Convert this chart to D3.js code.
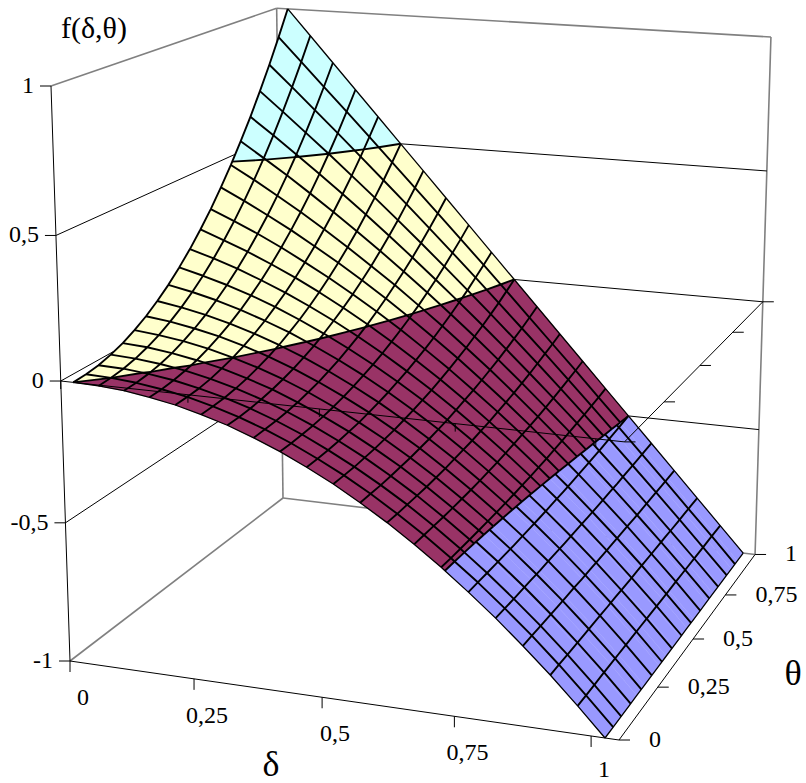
<!DOCTYPE html>
<html>
<head>
<meta charset="utf-8">
<script src="https://cdn.jsdelivr.net/npm/d3@7"></script>
<style>
  html, body { margin: 0; padding: 0; background: #fff; }
  svg { display: block; }
  text { font-family: "Liberation Serif", serif; fill: #000; }
</style>
</head>
<body>
<svg id="chart" width="806" height="783"></svg>
<script>
// values
const deltaValues = [0, 0.05, 0.1, 0.15, 0.2, 0.25, 0.3, 0.35, 0.4, 0.45, 0.5, 0.55, 0.6, 0.65, 0.7, 0.75, 0.8, 0.85, 0.9, 0.95, 1];
const thetaValues = [0, 0.05, 0.1, 0.15, 0.2, 0.25, 0.3, 0.35, 0.4, 0.45, 0.5, 0.55, 0.6, 0.65, 0.7, 0.75, 0.8, 0.85, 0.9, 0.95, 1];
const zTicks = [-1, -0.5, 0, 0.5, 1];
const zLabels = ['-1', '-0,5', '0', '0,5', '1'];
const deltaTicks = [0, 0.25, 0.5, 0.75, 1];
const deltaLabels = ['0', '0,25', '0,5', '0,75', '1'];
const thetaTicks = [0, 0.25, 0.5, 0.75, 1];
const thetaLabels = ['0', '0,25', '0,5', '0,75', '1'];
const bandEdges = [-1, -0.5, 0, 0.5, 1];
const bandColors = ['#9999FF', '#993366', '#FFFFCC', '#CCFFFF'];
// the blue band shows fewer theta lines than the rest, read from where they end on the delta = 1 edge
const blueThetaLines = [0, 0.05, 0.1, 0.16, 0.23, 0.3, 0.37, 0.44, 0.51, 0.58, 0.65, 0.72, 0.79, 0.86, 0.93, 1];

// one row per delta, one column per theta
const surfaceValues = [
  [0, .003, .01, .023, .04, .063, .09, .123, .16, .203, .25, .303, .36, .423, .49, .563, .64, .723, .81, .903, 1],
  [-.003, 0, .007, .018, .034, .054, .079, .108, .142, .18, .223, .27, .322, .379, .44, .505, .575, .65, .729, .812, .9],
  [-.01, -.008, -.002, .008, .022, .041, .063, .089, .12, .154, .193, .235, .282, .332, .387, .446, .508, .575, .646, .721, .8],
  [-.023, -.021, -.015, -.006, .006, .023, .043, .066, .093, .124, .158, .196, .238, .283, .332, .384, .44, .5, .563, .63, .7],
  [-.04, -.038, -.034, -.026, -.014, 0, .018, .038, .062, .09, .12, .154, .19, .23, .274, .32, .37, .422, .478, .538, .6],
  [-.063, -.061, -.057, -.05, -.04, -.027, -.012, .006, .028, .051, .078, .108, .14, .175, .213, .254, .298, .344, .393, .445, .5],
  [-.09, -.089, -.085, -.079, -.07, -.059, -.046, -.03, -.012, .009, .033, .058, .086, .117, .15, .186, .224, .264, .307, .352, .4],
  [-.123, -.121, -.118, -.113, -.106, -.096, -.085, -.071, -.055, -.037, -.017, .005, .03, .056, .085, .115, .148, .183, .22, .259, .3],
  [-.16, -.159, -.156, -.152, -.146, -.138, -.128, -.116, -.102, -.087, -.07, -.051, -.03, -.008, .016, .043, .07, .1, .132, .165, .2],
  [-.203, -.202, -.2, -.196, -.19, -.184, -.175, -.165, -.154, -.141, -.127, -.111, -.094, -.075, -.054, -.032, -.009, .016, .043, .071, .1],
  [-.25, -.249, -.248, -.244, -.24, -.234, -.228, -.219, -.21, -.199, -.188, -.174, -.16, -.144, -.128, -.109, -.09, -.069, -.048, -.024, 0],
  [-.303, -.302, -.301, -.298, -.294, -.29, -.284, -.278, -.27, -.262, -.252, -.241, -.23, -.217, -.203, -.189, -.173, -.156, -.139, -.12, -.1],
  [-.36, -.36, -.358, -.356, -.354, -.35, -.346, -.34, -.334, -.328, -.32, -.312, -.302, -.292, -.282, -.27, -.258, -.244, -.23, -.216, -.2],
  [-.423, -.422, -.421, -.42, -.418, -.415, -.412, -.408, -.403, -.398, -.392, -.385, -.378, -.371, -.363, -.354, -.344, -.334, -.323, -.312, -.3],
  [-.49, -.49, -.489, -.488, -.486, -.484, -.482, -.479, -.476, -.472, -.468, -.463, -.458, -.452, -.446, -.439, -.432, -.425, -.417, -.409, -.4],
  [-.563, -.562, -.562, -.561, -.56, -.559, -.557, -.555, -.553, -.55, -.547, -.544, -.54, -.536, -.532, -.527, -.523, -.517, -.512, -.506, -.5],
  [-.64, -.64, -.64, -.639, -.638, -.638, -.636, -.635, -.634, -.632, -.63, -.628, -.626, -.623, -.62, -.618, -.614, -.611, -.608, -.604, -.6],
  [-.723, -.722, -.722, -.722, -.722, -.721, -.72, -.72, -.719, -.718, -.717, -.716, -.714, -.713, -.712, -.71, -.708, -.706, -.704, -.702, -.7],
  [-.81, -.81, -.81, -.81, -.81, -.809, -.809, -.809, -.808, -.808, -.808, -.807, -.806, -.806, -.805, -.804, -.804, -.803, -.802, -.801, -.8],
  [-.903, -.903, -.903, -.902, -.902, -.902, -.902, -.902, -.902, -.902, -.902, -.902, -.902, -.901, -.901, -.901, -.901, -.901, -.9, -.9, -.9],
  [-1, -1, -1, -1, -1, -1, -1, -1, -1, -1, -1, -1, -1, -1, -1, -1, -1, -1, -1, -1, -1]
];

// delta points sit in the middle of their category, so the box runs half a step past each end
const deltaStep = 0.05;
const uScale = d3.scaleLinear().domain([-deltaStep / 2, 1 + deltaStep / 2]).range([0, 1]);
const tickU = d3.scaleLinear().domain([0, 1 + deltaStep]).range([0, 1]);
const vScale = d3.scaleLinear().domain([0, 1]).range([0, 1]);
const wScale = d3.scaleLinear().domain([-1, 1]).range([0, 1]);

// box corners on screen and the perspective factors
const ORIGIN = [70, 661];
const U_END = [619, 740];
const V_END = [283, 498];
const W_END = [51, 86];
const PERSP_U = -0.066;
const PERSP_V = 0.182;
const PERSP_W = -0.051;

function cube(u, v, w) {
  let den = 1 + PERSP_U * u + PERSP_V * v + PERSP_W * w;
  let out = [];
  for (let k = 0; k < 2; k++) {
    out.push((ORIGIN[k]
      + u * ((1 + PERSP_U) * U_END[k] - ORIGIN[k])
      + v * ((1 + PERSP_V) * V_END[k] - ORIGIN[k])
      + w * ((1 + PERSP_W) * W_END[k] - ORIGIN[k])) / den);
  }
  return out;
}

// data coordinates to screen
function project(d, t, z) {
  return cube(uScale(d), vScale(t), wScale(z));
}

// axis positions use the tick scale, not the point scale
function axisPoint(d, t, z) {
  return cube(tickU(d), vScale(t), wScale(z));
}

let svg = d3.select('#chart');
let line = d3.line();

function seg(a, b, color, width) {
  svg.append('path')
    .attr('d', line([a, b]))
    .attr('fill', 'none')
    .attr('stroke', color)
    .attr('stroke-width', width);
}

function label(txt, x, y, size, anchor) {
  svg.append('text')
    .attr('x', x)
    .attr('y', y)
    .attr('font-size', size)
    .attr('text-anchor', anchor)
    .text(txt);
}

const GREY = '#808080';

// walls: use box coordinates directly
function drawWalls() {
  seg(cube(0, 0, 1), cube(0, 1, 1), GREY, 1.6);
  seg(cube(0, 1, 1), cube(1, 1, 1), GREY, 1.6);
  seg(cube(0, 1, 0), cube(0, 1, 1), GREY, 1.6);
  seg(cube(1, 1, 0), cube(1, 1, 1), GREY, 1.6);
  seg(cube(0, 0, 0), cube(0, 1, 0), GREY, 1.6);
  seg(cube(0, 1, 0), cube(1, 1, 0), GREY, 1.6);

  zTicks.slice(1, 4).forEach(function(z) {
    let w = wScale(z);
    seg(cube(0, 0, w), cube(0, 1, w), '#000', 1);
    seg(cube(0, 1, w), cube(1, 1, w), '#000', 1);
  });
}

// keep the part of a polygon with lo <= z <= hi
function clipBand(poly, lo, hi) {
  function clip(pts, inside, level) {
    let res = [];
    pts.forEach(function(p, n) {
      let q = pts[(n + 1) % pts.length];
      let pIn = inside(p[2]);
      let qIn = inside(q[2]);
      if (pIn) res.push(p);
      if (pIn !== qIn) {
        let s = (level - p[2]) / (q[2] - p[2]);
        res.push([p[0] + s * (q[0] - p[0]), p[1] + s * (q[1] - p[1]), level]);
      }
    });
    return res;
  }
  let out = clip(poly, z => z >= lo, lo);
  if (out.length) out = clip(out, z => z <= hi, hi);
  return out;
}

// surface height at any theta, read between the two neighbouring columns of a row
function heightAt(i, t) {
  let bis = d3.bisectRight(thetaValues, t) - 1;
  let j = Math.min(bis, thetaValues.length - 2);
  let s = (t - thetaValues[j]) / (thetaValues[j + 1] - thetaValues[j]);
  return surfaceValues[i][j] + s * (surfaceValues[i][j + 1] - surfaceValues[i][j]);
}

// a theta line, only the stretch on one side of the -0,5 contour
function thetaLinePoints(t, above) {
  let level = bandEdges[1];
  let pts = [];
  for (let i = 0; i < deltaValues.length; i++) {
    let z = heightAt(i, t);
    if ((z >= level) === above) {
      if (i > 0 && pts.length === 0) {
        let zPrev = heightAt(i - 1, t);
        pts.push(project(deltaValues[i - 1] + (level - zPrev) / (z - zPrev) * deltaStep, t, level));
      }
      pts.push(project(deltaValues[i], t, z));
    } else if (pts.length) {
      let zPrev = heightAt(i - 1, t);
      pts.push(project(deltaValues[i - 1] + (level - zPrev) / (z - zPrev) * deltaStep, t, level));
      break;
    }
  }
  return pts;
}

function drawSurface() {
  let cells = svg.append('g');
  let contours = [];

  // back to front: far theta first, then growing delta
  for (let j = thetaValues.length - 2; j >= 0; j--) {
    for (let i = 0; i < deltaValues.length - 1; i++) {
      let quad = [
        [deltaValues[i], thetaValues[j], surfaceValues[i][j]],
        [deltaValues[i + 1], thetaValues[j], surfaceValues[i + 1][j]],
        [deltaValues[i + 1], thetaValues[j + 1], surfaceValues[i + 1][j + 1]],
        [deltaValues[i], thetaValues[j + 1], surfaceValues[i][j + 1]]
      ];
      bandColors.forEach(function(color, b) {
        let lo = bandEdges[b];
        let hi = bandEdges[b + 1];
        let piece = clipBand(quad, lo, hi);
        if (piece.length < 3) return;
        cells.append('path')
          .attr('d', line(piece.map(p => project(p[0], p[1], p[2]))) + 'Z')
          .attr('fill', color)
          .attr('stroke', color)
          .attr('stroke-width', 0.4);
        // upper side of the piece is a contour line
        if (hi < 1) {
          piece.forEach(function(p, n) {
            let q = piece[(n + 1) % piece.length];
            if (p[2] === hi && q[2] === hi) contours.push([p, q]);
          });
        }
      });
    }
  }

  // mesh
  let mesh = svg.append('g')
    .attr('fill', 'none')
    .attr('stroke', '#000')
    .attr('stroke-linejoin', 'round');

  thetaValues.forEach(function(t, j) {
    let outer = j === 0 || j === thetaValues.length - 1;
    mesh.append('path')
      .attr('stroke-width', outer ? 1.3 : 1.9)
      .attr('d', line(thetaLinePoints(t, true)));
  });
  blueThetaLines.forEach(function(t, n) {
    let outer = n === 0 || n === blueThetaLines.length - 1;
    mesh.append('path')
      .attr('stroke-width', outer ? 1.3 : 1.9)
      .attr('d', line(thetaLinePoints(t, false)));
  });
  deltaValues.forEach(function(d, i) {
    mesh.append('path')
      .attr('stroke-width', i === deltaValues.length - 1 ? 1.3 : 1.9)
      .attr('d', line(thetaValues.map((t, j) => project(d, t, surfaceValues[i][j]))));
  });

  contours.forEach(function(c) {
    mesh.append('path')
      .attr('stroke-width', 1.9)
      .attr('d', line(c.map(p => project(p[0], p[1], p[2]))));
  });
}

function drawAxes() {
  // vertical axis with its ticks and labels
  seg(cube(0, 0, 1), cube(0, 0, 0), '#000', 1);
  zTicks.forEach(function(z, n) {
    let p = cube(0, 0, wScale(z));
    seg([p[0] - 11, p[1]], p, '#000', 1);
    label(zLabels[n], p[0] - 17, p[1] + 7, 24, 'end');
  });

  // delta and theta axes on the floor
  seg(cube(0, 0, 0), cube(1, 0, 0), '#000', 1);
  seg(cube(1, 0, 0), cube(1, 1, 0), '#000', 1);
  deltaTicks.forEach(function(d, n) {
    let p = axisPoint(d, 0, -1);
    seg(p, [p[0], p[1] + 11], '#000', 1);
    // the last label would run off the page
    label(deltaLabels[n], p[0] + 13, Math.min(p[1] + 44, 777), 24, 'middle');
  });
  thetaTicks.forEach(function(t, n) {
    let p = cube(1, vScale(t), 0);
    seg(p, [p[0] + 11, p[1]], '#000', 1);
    label(thetaLabels[n], p[0] + 30, p[1] + 7, 24, 'start');
  });

  // same axes repeated at z = 0, drawn over the surface
  let mid = wScale(0);
  seg(cube(0, 0, mid), cube(1, 0, mid), '#000', 1);
  seg(cube(1, 0, mid), cube(1, 1, mid), '#000', 1);
  deltaTicks.forEach(function(d) {
    let p = axisPoint(d, 0, 0);
    seg(p, [p[0], p[1] + 8], '#000', 1);
  });
  thetaTicks.forEach(function(t) {
    let p = cube(1, vScale(t), mid);
    seg(p, [p[0] + 11, p[1]], '#000', 1);
  });

  label('f(δ,θ)', 61, 38, 30, 'start');
  label('δ', 271, 776, 36, 'middle');
  label('θ', 793, 685, 36, 'middle');
}

drawWalls();
drawSurface();
drawAxes();
</script>
</body>
</html>
